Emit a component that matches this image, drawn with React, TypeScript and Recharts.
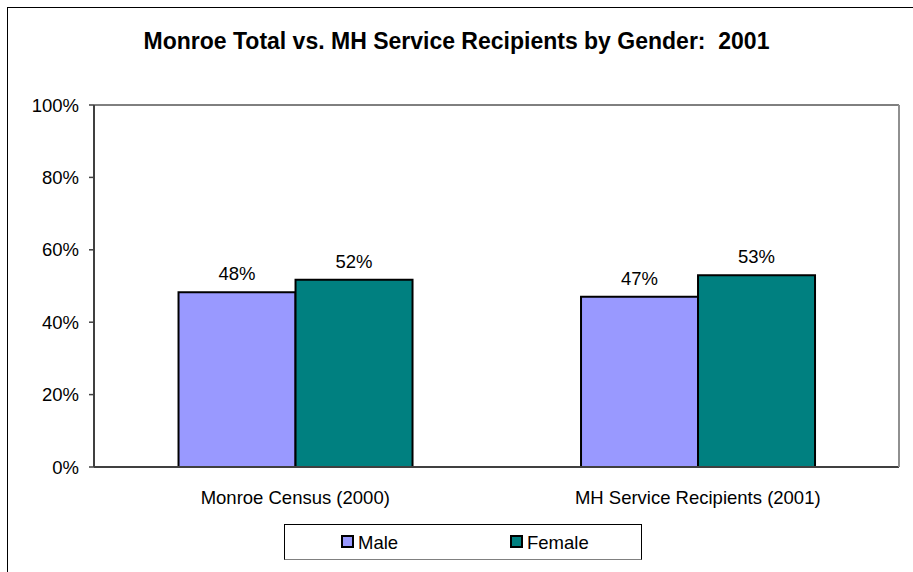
import React from "react";
import {
  BarChart,
  Bar,
  XAxis,
  YAxis,
  CartesianGrid,
  Legend,
  LabelList,
} from "recharts";

const categories = ["Monroe Census (2000)", "MH Service Recipients (2001)"];
const maleValues = [0.483, 0.47];
const femaleValues = [0.517, 0.53];
const yTicks = [0, 0.2, 0.4, 0.6, 0.8, 1];
const boundaryTicks = [0, 1, 2];
const seriesNames = ["Male", "Female"];
const seriesColors = ["#9999FF", "#008080"];
const title = "Monroe Total vs. MH Service Recipients by Gender:  2001";

const data = categories.map((c, i) => ({
  name: c,
  male: maleValues[i],
  female: femaleValues[i],
}));

const FONT = '"Liberation Sans", Arial, sans-serif';
const pct = (v: number) => `${Math.round(v * 100)}%`;

const LegendContent = () => (
  <div
    style={{
      width: 358,
      height: 36,
      boxSizing: "border-box",
      border: "1px solid #000",
      borderBottomColor: "#808080",
      position: "relative",
      fontFamily: FONT,
      fontSize: 18.5,
      color: "#000",
    }}
  >
    {seriesNames.map((n, i) => (
      <div
        key={n}
        style={{
          position: "absolute",
          left: i === 0 ? 56 : 225,
          top: 8,
          display: "flex",
          alignItems: "center",
          lineHeight: "20px",
        }}
      >
        <span
          style={{
            display: "inline-block",
            width: 9,
            height: 9,
            background: seriesColors[i],
            border: "2px solid #000",
            marginRight: 4,
            marginTop: -4,
          }}
        />
        <span>{n}</span>
      </div>
    ))}
  </div>
);

export default function App() {
  return (
    <div
      style={{
        position: "absolute",
        left: 0,
        top: 0,
        width: 913,
        height: 572,
        overflow: "hidden",
        background: "#fff",
        fontFamily: FONT,
      }}
    >
      <div
        style={{
          position: "absolute",
          left: 7,
          top: 7,
          width: 1000,
          height: 1000,
          borderLeft: "1px solid #000",
          borderTop: "1.5px solid #000",
        }}
      />
      <div
        style={{
          position: "absolute",
          left: 0,
          top: 30,
          width: 913,
          textAlign: "center",
          fontWeight: "bold",
          fontSize: 23,
          lineHeight: 1,
          whiteSpace: "pre",
          color: "#000",
        }}
      >
        {title}
      </div>
      <BarChart
        width={913}
        height={572}
        data={data}
        margin={{ top: 105, right: 0, bottom: 39, left: 0 }}
        barCategoryGap="21%"
        barGap={0}
        style={{ position: "absolute", left: 0, top: 0 }}
      >
        <CartesianGrid vertical={false} stroke="#000" strokeWidth={1} />
        <XAxis
          xAxisId="b"
          type="number"
          domain={[0, 2]}
          ticks={boundaryTicks}
          allowDataOverflow
          height={0}
          tick={false}
          tickSize={5}
          tickLine={{ stroke: "#404040", strokeWidth: 1.5 }}
          axisLine={false}
        />
        <XAxis
          xAxisId="cat"
          dataKey="name"
          height={30}
          tickLine={false}
          tickSize={6}
          tickMargin={18}
          axisLine={{ stroke: "#404040", strokeWidth: 2 }}
          tick={{ fill: "#000", fontSize: 18.5, fontFamily: FONT }}
          interval={0}
        />
        <YAxis
          yAxisId="l"
          width={94}
          domain={[0, 1]}
          ticks={yTicks}
          tickFormatter={pct}
          tickSize={5}
          tickMargin={10}
          tickLine={{ stroke: "#404040", strokeWidth: 1.5 }}
          axisLine={{ stroke: "#404040", strokeWidth: 2 }}
          tick={{ fill: "#000", fontSize: 18.5, fontFamily: FONT }}
        />
        <YAxis
          yAxisId="r"
          orientation="right"
          width={14}
          domain={[0, 1]}
          tick={false}
          tickLine={false}
          axisLine={{ stroke: "#909090", strokeWidth: 2 }}
        />
        <Legend
          content={<LegendContent />}
          wrapperStyle={{ position: "absolute", left: 284, top: 524, width: 358, height: 36 }}
        />
        <Bar
          xAxisId="cat"
          yAxisId="l"
          dataKey="male"
          name={seriesNames[0]}
          fill={seriesColors[0]}
          stroke="#000"
          strokeWidth={2}
          isAnimationActive={false}
        >
          <LabelList
            dataKey="male"
            position="top"
            offset={12}
            formatter={(v: any) => pct(Number(v))}
            style={{ fill: "#000", fontSize: 18.5, fontFamily: FONT }}
          />
        </Bar>
        <Bar
          xAxisId="cat"
          yAxisId="l"
          dataKey="female"
          name={seriesNames[1]}
          fill={seriesColors[1]}
          stroke="#000"
          strokeWidth={2}
          isAnimationActive={false}
        >
          <LabelList
            dataKey="female"
            position="top"
            offset={12}
            formatter={(v: any) => pct(Number(v))}
            style={{ fill: "#000", fontSize: 18.5, fontFamily: FONT }}
          />
        </Bar>
      </BarChart>
    </div>
  );
}
